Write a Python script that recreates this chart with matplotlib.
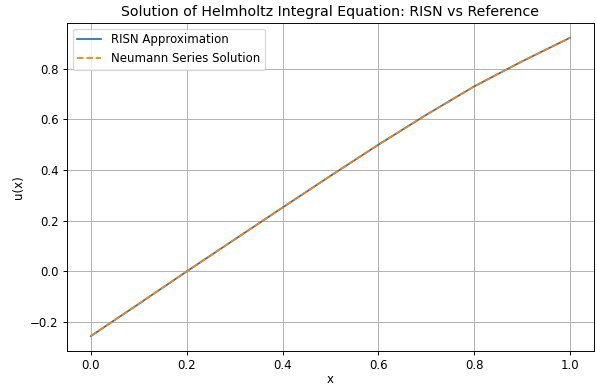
import numpy as np
import matplotlib
matplotlib.use("Agg")
import matplotlib.pyplot as plt

# sample points of the solution on [0, 1]
x_pts = [0.0, 0.1, 0.2, 0.3, 0.4, 0.5, 0.6, 0.7, 0.8, 0.9, 1.0]
u_risn = [-0.255, -0.128, 0.0, 0.126, 0.252, 0.377, 0.500, 0.618, 0.730, 0.829, 0.922]
u_neumann = [-0.255, -0.128, 0.0, 0.126, 0.252, 0.377, 0.500, 0.618, 0.730, 0.829, 0.922]

DPI = 85
fig = plt.figure(figsize=(597 / DPI, 387 / DPI), dpi=DPI)
ax = fig.add_subplot(1, 1, 1)
ax.plot(x_pts, u_risn, label="RISN Approximation")
ax.plot(x_pts, u_neumann, "--", label="Neumann Series Solution")
ax.set_title("Solution of Helmholtz Integral Equation: RISN vs Reference")
ax.set_xlabel("x", labelpad=0.5)
ax.set_ylabel("u(x)")
ax.legend()
ax.grid(True)
fig.subplots_adjust(left=0.112, right=0.995, top=0.941, bottom=0.093)
plt.savefig("out.png", dpi=DPI)
